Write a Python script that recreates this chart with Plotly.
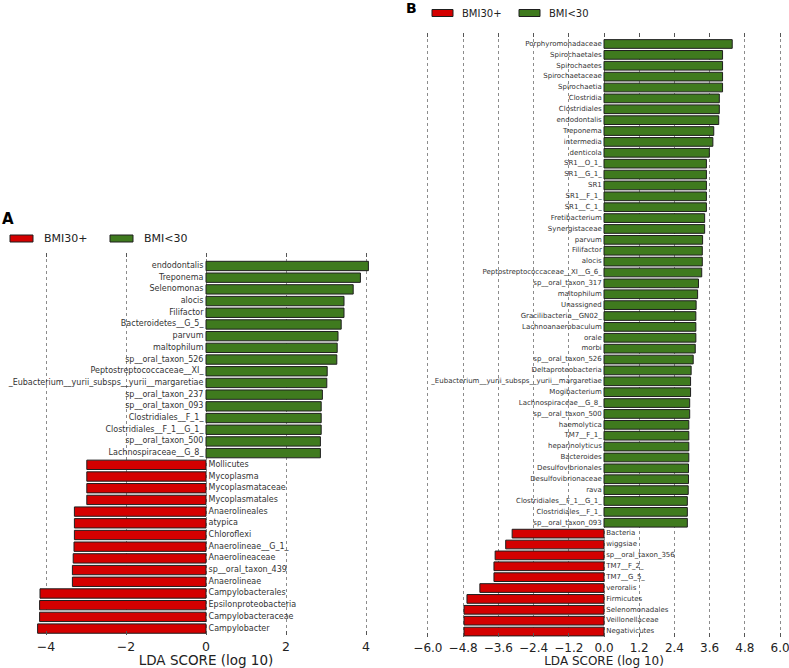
import plotly.graph_objects as go

# ---------------- Panel A data ----------------
a_green_names = ["endodontalis", "Treponema", "Selenomonas", "alocis", "Filifactor",
                 "Bacteroidetes__G_5_", "parvum", "maltophilum", "sp__oral_taxon_526",
                 "Peptostreptococcaceae__XI_", "_Eubacterium__yurii_subsps__yurii__margaretiae",
                 "sp__oral_taxon_237", "sp__oral_taxon_093", "Clostridiales__F_1_",
                 "Clostridiales__F_1__G_1_", "sp__oral_taxon_500", "Lachnospiraceae__G_8_"]
a_green_vals = [4.06, 3.86, 3.68, 3.45, 3.45, 3.38, 3.30, 3.28, 3.27, 3.03, 3.02,
                2.91, 2.88, 2.88, 2.88, 2.86, 2.86]
a_red_names = ["Mollicutes", "Mycoplasma", "Mycoplasmataceae", "Mycoplasmatales",
               "Anaerolineales", "atypica", "Chloroflexi", "Anaerolineae__G_1_",
               "Anaerolineaceae", "sp__oral_taxon_439", "Anaerolineae", "Campylobacterales",
               "Epsilonproteobacteria", "Campylobacteraceae", "Campylobacter"]
a_red_vals = [-2.98, -2.98, -2.98, -2.98, -3.29, -3.29, -3.29, -3.30, -3.32, -3.34,
              -3.34, -4.15, -4.16, -4.16, -4.21]
a_ticks = [-4, -2, 0, 2, 4]
a_tick_labels = ["\u22124", "\u22122", "0", "2", "4"]

# ---------------- Panel B data ----------------
b_green_names = ["Porphyromonadaceae", "Spirochaetales", "Spirochaetes", "Spirochaetaceae",
                 "Spirochaetia", "Clostridia", "Clostridiales", "endodontalis", "Treponema",
                 "intermedia", "denticola", "SR1__O_1_", "SR1__G_1_", "SR1", "SR1__F_1_",
                 "SR1__C_1_", "Fretibacterium", "Synergistaceae", "parvum", "Filifactor",
                 "alocis", "Peptostreptococcaceae__XI__G_6_", "sp__oral_taxon_317",
                 "maltophilum", "Unassigned", "Gracilibacteria__GN02_", "Lachnoanaerobaculum",
                 "orale", "morbi", "sp__oral_taxon_526", "Deltaproteobacteria",
                 "_Eubacterium__yurii_subsps__yurii__margaretiae", "Mogibacterium",
                 "Lachnospiraceae__G_8_", "sp__oral_taxon_500", "haemolytica", "TM7__F_1_",
                 "heparinolyticus", "Bacteroides", "Desulfovibrionales", "Desulfovibrionaceae",
                 "rava", "Clostridiales__F_1__G_1_", "Clostridiales__F_1_", "sp__oral_taxon_093"]
b_green_vals = [4.37, 4.04, 4.04, 4.04, 4.04, 3.93, 3.93, 3.91, 3.74, 3.71, 3.59,
                3.49, 3.49, 3.49, 3.49, 3.49, 3.43, 3.43, 3.36, 3.35, 3.35, 3.33,
                3.22, 3.19, 3.14, 3.13, 3.13, 3.13, 3.11, 3.04, 2.97, 2.95, 2.95,
                2.92, 2.92, 2.89, 2.89, 2.89, 2.89, 2.88, 2.88, 2.87, 2.84, 2.84, 2.84]
b_red_names = ["Bacteria", "wiggsiae", "sp__oral_taxon_356", "TM7__F_2_", "TM7__G_5_",
               "veroralis", "Firmicutes", "Selenomonadales", "Veillonellaceae", "Negativicutes"]
b_red_vals = [-3.13, -3.35, -3.71, -3.75, -3.75, -4.23, -4.67, -4.77, -4.77, -4.77]
b_ticks = [-6.0, -4.8, -3.6, -2.4, -1.2, 0.0, 1.2, 2.4, 3.6, 4.8, 6.0]
b_tick_labels = ["\u22126.0", "\u22124.8", "\u22123.6", "\u22122.4", "\u22121.2", "0.0",
                 "1.2", "2.4", "3.6", "4.8", "6.0"]

legend_names = ["BMI30+", "BMI<30"]
RED = "#d40000"
GREEN = "#3f7a1e"
EDGE = "#1e1e1e"
FONT = "DejaVu Sans"
W, H = 789, 668


def px_x(p):
    return p / W


def px_y(p):
    return 1 - p / H


fig = go.Figure()


def add_panel(gnames, gvals, rnames, rvals, xa, ya, lab_size):
    n_g = len(gnames)
    gy = list(range(n_g))
    ry = list(range(n_g, n_g + len(rnames)))
    fig.add_trace(go.Bar(x=gvals, y=gy, orientation="h", width=0.8,
                         marker=dict(color=GREEN, line=dict(color=EDGE, width=1)),
                         xaxis=xa, yaxis=ya, showlegend=False, hoverinfo="skip"))
    fig.add_trace(go.Bar(x=rvals, y=ry, orientation="h", width=0.8,
                         marker=dict(color=RED, line=dict(color=EDGE, width=1)),
                         xaxis=xa, yaxis=ya, showlegend=False, hoverinfo="skip"))
    fig.add_trace(go.Scatter(x=[0] * n_g, y=gy, mode="text", text=[t + " " for t in gnames],
                             textposition="middle left", cliponaxis=False,
                             textfont=dict(family=FONT, size=lab_size, color="#333333"),
                             xaxis=xa, yaxis=ya, showlegend=False, hoverinfo="skip"))
    fig.add_trace(go.Scatter(x=[0] * len(rnames), y=ry, mode="text",
                             text=[" " + t for t in rnames],
                             textposition="middle right", cliponaxis=False,
                             textfont=dict(family=FONT, size=lab_size, color="#333333"),
                             xaxis=xa, yaxis=ya, showlegend=False, hoverinfo="skip"))
    return n_g + len(rnames)


nA = add_panel(a_green_names, a_green_vals, a_red_names, a_red_vals, "x", "y", 8)
nB = add_panel(b_green_names, b_green_vals, b_red_names, b_red_vals, "x2", "y2", 7)

common_x = dict(showgrid=True, gridcolor="#8c8c8c", griddash="dot", gridwidth=1,
                zeroline=False, showline=False, ticks="inside", ticklen=4,
                tickcolor="#555555", mirror="ticks", tickmode="array",
                ticklabelstandoff=2, automargin=False, ticklabeloverflow="allow")
common_y = dict(showgrid=False, zeroline=False, showline=False, showticklabels=False,
                ticks="", automargin=False)

fig.update_layout(
    template="none",
    width=W, height=H, margin=dict(l=0, r=0, t=0, b=0, pad=0, autoexpand=False),
    plot_bgcolor="white", paper_bgcolor="white", bargap=0.2, showlegend=False,
    font=dict(family=FONT, color="#222222"),
    xaxis=dict(common_x, domain=[px_x(30), px_x(382)], range=[-4.4, 4.4],
               tickvals=a_ticks, ticktext=a_tick_labels, anchor="y",
               tickfont=dict(family=FONT, size=12.5, color="#222222"),
               title=dict(text="LDA SCORE (log 10)", standoff=6,
                          font=dict(family=FONT, size=13.5, color="#222222"))),
    yaxis=dict(common_y, domain=[px_y(635), px_y(253)], range=[nA - 1 + 0.55, -1.11],
               anchor="x"),
    xaxis2=dict(common_x, domain=[px_x(425), px_x(783)], range=[-6.1, 6.1],
                tickvals=b_ticks, ticktext=b_tick_labels, anchor="y2",
                tickfont=dict(family=FONT, size=12, color="#222222"),
                title=dict(text="LDA SCORE (log 10)", standoff=5,
                           font=dict(family=FONT, size=12, color="#222222"))),
    yaxis2=dict(common_y, domain=[px_y(637), px_y(33)], range=[nB - 1 + 0.5, -1.01],
                anchor="x2"),
)

# Panel letters
fig.add_annotation(text="<b>A</b>", x=px_x(0), y=px_y(219), xref="paper", yref="paper",
                   xanchor="left", yanchor="middle", showarrow=False,
                   font=dict(family=FONT, size=15, color="black"))
fig.add_annotation(text="<b>B</b>", x=px_x(404), y=px_y(8), xref="paper", yref="paper",
                   xanchor="left", yanchor="middle", showarrow=False,
                   font=dict(family=FONT, size=14, color="black"))


# Custom legends (wide swatches)
def add_legend(x0, yc, sw, gap_txt, x_second, size):
    cols = [RED, GREEN]
    xs = [x0, x_second]
    for name, col, xx in zip(legend_names, cols, xs):
        fig.add_shape(type="rect", xref="paper", yref="paper",
                      x0=px_x(xx), x1=px_x(xx + sw), y0=px_y(yc + 3.5), y1=px_y(yc - 3.5),
                      fillcolor=col, line=dict(color=EDGE, width=1))
        fig.add_annotation(text=name, x=px_x(xx + sw + gap_txt), y=px_y(yc),
                           xref="paper", yref="paper", xanchor="left", yanchor="middle",
                           showarrow=False, font=dict(family=FONT, size=size, color="#222222"))


add_legend(10, 238.5, 23, 9, 110, 11)
add_legend(432, 13, 21, 7, 519, 10)

fig.write_html("out.html", config={"displayModeBar": False},
               post_script="document.body.style.margin='0';document.body.style.overflow='hidden';")
